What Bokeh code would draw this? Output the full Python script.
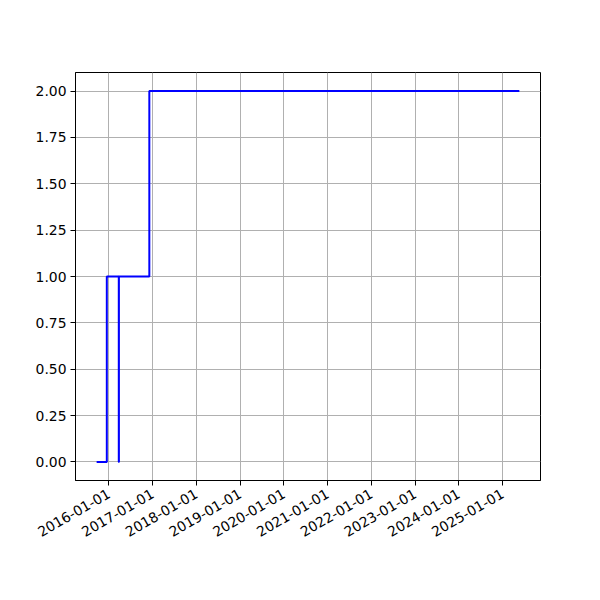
import math
from datetime import datetime
from bokeh.plotting import figure
from bokeh.models import Range1d, FixedTicker, DatetimeTickFormatter, NumeralTickFormatter
from bokeh.embed import file_html
from bokeh.resources import INLINE

# data (step, post)
dates = ["2015-09-21", "2015-12-15", "2016-03-24", "2016-03-25", "2016-12-04", "2025-05-21"]
values = [0, 1, 0, 1, 2, 2]
tick_years = [2016, 2017, 2018, 2019, 2020, 2021, 2022, 2023, 2024, 2025]
y_ticks = [0.0, 0.25, 0.5, 0.75, 1.0, 1.25, 1.5, 1.75, 2.0]

x = [datetime.strptime(d, "%Y-%m-%d") for d in dates]
xms = [(d - datetime(1970, 1, 1)).total_seconds() * 1000 for d in x]
span = xms[-1] - xms[0]
ys = max(values) - min(values)

p = figure(width=584, height=584, output_backend="svg", toolbar_location=None,
           x_axis_type="datetime",
           x_range=Range1d(xms[0] - 0.05 * span, xms[-1] + 0.05 * span),
           y_range=Range1d(min(values) - 0.05 * ys, max(values) + 0.05 * ys),
           min_border_left=75, min_border_right=44, min_border_top=72, min_border_bottom=104)

p.step(x, values, mode="after", line_color="blue", line_width=2)

font = "DejaVu Sans"
fs = "13.9px"
tick_ms = [(datetime(yy, 1, 1) - datetime(1970, 1, 1)).total_seconds() * 1000 for yy in tick_years]
p.xaxis.ticker = FixedTicker(ticks=tick_ms)
fmt = "%Y-%m-%d"
p.xaxis.formatter = DatetimeTickFormatter(years=fmt, months=fmt, days=fmt, hours=fmt,
                                          hourmin=fmt, minutes=fmt, minsec=fmt, seconds=fmt,
                                          milliseconds=fmt, microseconds=fmt)
p.xaxis.major_label_orientation = math.pi / 6
p.yaxis.ticker = FixedTicker(ticks=y_ticks)
p.yaxis.formatter = NumeralTickFormatter(format="0.00")

for ax in (p.xaxis, p.yaxis):
    ax.major_label_text_font = font
    ax.major_label_text_font_size = fs
    ax.major_label_text_color = "black"
    ax.axis_line_color = "black"
    ax.major_tick_line_color = "black"
    ax.major_tick_in = 0
    ax.major_tick_out = 5
    ax.minor_tick_line_color = None
    ax.major_label_standoff = 4
p.xaxis.major_label_standoff = 7

p.grid.grid_line_color = "#b0b0b0"
p.grid.grid_line_width = 1
p.outline_line_color = "black"
p.outline_line_width = 1
p.background_fill_color = "white"
p.border_fill_color = "white"

open("out.html", "w").write(file_html(p, INLINE))
